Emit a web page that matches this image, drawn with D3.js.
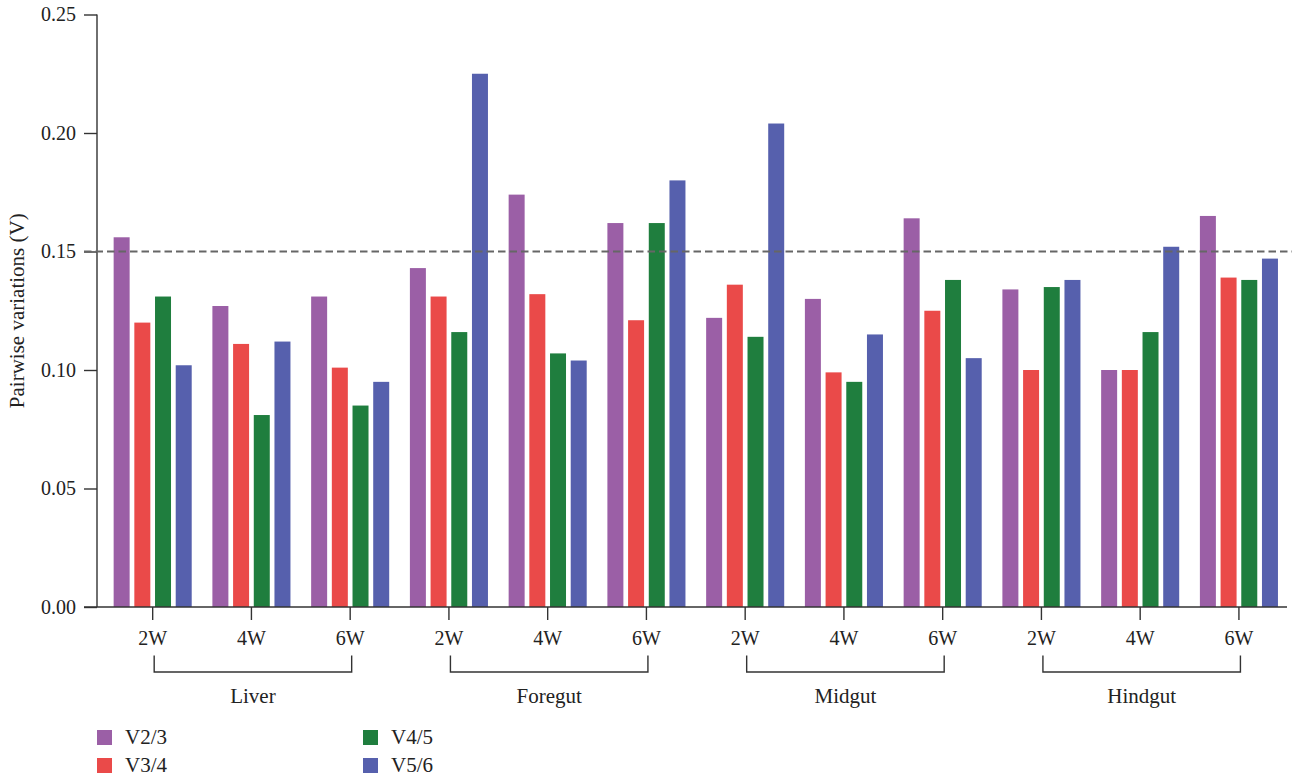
<!DOCTYPE html>
<html>
<head>
<meta charset="utf-8">
<script src="https://cdn.jsdelivr.net/npm/d3@7"></script>
<style>
  html, body { margin: 0; padding: 0; background: #fff; }
  svg text { font-family: "Liberation Serif", "DejaVu Serif", serif; fill: #222; }
</style>
</head>
<body>
<svg id="chart" width="1292" height="777"></svg>
<script>
// Tissues and sampling weeks
const tissues = ["Liver", "Foregut", "Midgut", "Hindgut"];
const weeks = ["2W", "4W", "6W"];
const seriesNames = ["V2/3", "V3/4", "V4/5", "V5/6"];
const seriesColors = ["#9b5fa6", "#ea4a49", "#1f7e3e", "#5660ad"];

// Pairwise variation per group (tissue × week), one array per series
const v23 = [0.156, 0.127, 0.131, 0.143, 0.174, 0.162, 0.122, 0.130, 0.164, 0.134, 0.100, 0.165];
const v34 = [0.120, 0.111, 0.101, 0.131, 0.132, 0.121, 0.136, 0.099, 0.125, 0.100, 0.100, 0.139];
const v45 = [0.131, 0.081, 0.085, 0.116, 0.107, 0.162, 0.114, 0.095, 0.138, 0.135, 0.116, 0.138];
const v56 = [0.102, 0.112, 0.095, 0.225, 0.104, 0.180, 0.204, 0.115, 0.105, 0.138, 0.152, 0.147];

const yTicks = [0, 0.05, 0.10, 0.15, 0.20, 0.25];
const cutoff = 0.15;

const seriesValues = [v23, v34, v45, v56];
const groups = [];
tissues.forEach(t => weeks.forEach(w => groups.push({ tissue: t, week: w, key: t + "-" + w })));

const svg = d3.select("#chart");
const axisColor = "#333";
const fsTick = 20, fs = 21;

const y = d3.scaleLinear().domain([0, 0.25]).range([607, 14.5]);
const x0 = d3.scaleBand().domain(groups.map(g => g.key)).range([103.3, 1288.3]);
const x1 = d3.scaleBand().domain(seriesNames).range([0, x0.bandwidth()])
  .paddingInner(0.227).paddingOuter(0.5);

// Bars
groups.forEach((g, gi) => {
  seriesNames.forEach((s, si) => {
    const v = seriesValues[si][gi];
    svg.append("rect")
      .attr("x", x0(g.key) + x1(s))
      .attr("y", y(v))
      .attr("width", x1.bandwidth())
      .attr("height", y(0) - y(v))
      .attr("fill", seriesColors[si]);
  });
});

// Y axis
const yAxis = d3.axisLeft(y).tickValues(yTicks).tickFormat(d3.format(".2f")).tickSize(13).tickPadding(8);
const yg = svg.append("g").attr("transform", "translate(97,0)").call(yAxis);
yg.select(".domain").attr("stroke", axisColor).attr("stroke-width", 1.4).attr("d", `M0,${y(0.25)}V${y(0)}`);
yg.selectAll(".tick line").attr("stroke", axisColor).attr("stroke-width", 1.4);
yg.selectAll(".tick text").attr("font-size", fsTick).attr("fill", "#222")
  .style("font-family", '"Liberation Serif", serif');

// Threshold line
svg.append("line")
  .attr("x1", 84).attr("x2", 1292)
  .attr("y1", y(cutoff)).attr("y2", y(cutoff))
  .attr("stroke", "#666").attr("stroke-width", 2)
  .attr("stroke-dasharray", "7.5,4");

// X baseline
svg.append("line")
  .attr("x1", 84).attr("x2", 1287)
  .attr("y1", y(0)).attr("y2", y(0))
  .attr("stroke", axisColor).attr("stroke-width", 1.4);

// Week ticks and labels
groups.forEach(g => {
  const cx = x0(g.key) + x0.bandwidth() / 2;
  svg.append("line").attr("x1", cx).attr("x2", cx).attr("y1", y(0)).attr("y2", y(0) + 13)
    .attr("stroke", axisColor).attr("stroke-width", 1.4);
  svg.append("text").attr("x", cx).attr("y", 645).attr("text-anchor", "middle")
    .attr("font-size", fsTick).text(g.week);
});

// Tissue brackets
tissues.forEach(t => {
  const a = x0(t + "-" + weeks[0]) + x0.bandwidth() / 2 + 1.5;
  const b = x0(t + "-" + weeks[weeks.length - 1]) + x0.bandwidth() / 2 + 1.5;
  svg.append("path")
    .attr("d", `M${a},655.5V672H${b}V655.5`)
    .attr("fill", "none").attr("stroke", axisColor).attr("stroke-width", 1.4);
  svg.append("text").attr("x", (a + b) / 2).attr("y", 703).attr("text-anchor", "middle")
    .attr("font-size", fs).text(t);
});

// Y axis title
svg.append("text")
  .attr("transform", `translate(24,${y(0.125)}) rotate(-90)`)
  .attr("text-anchor", "middle").attr("font-size", fs)
  .text("Pairwise variations (V)");

// Legend (two columns)
seriesNames.forEach((s, i) => {
  const col = Math.floor(i / 2), row = i % 2;
  const lx = 97 + col * 266, ly = 730 + row * 28;
  svg.append("rect").attr("x", lx).attr("y", ly).attr("width", 15).attr("height", 15)
    .attr("fill", seriesColors[i]);
  svg.append("text").attr("x", lx + 28).attr("y", ly + 14).attr("font-size", fs).text(s);
});
</script>
</body>
</html>
